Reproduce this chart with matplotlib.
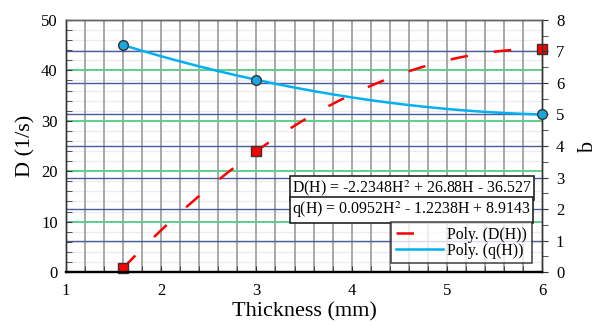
import numpy as np
import matplotlib
matplotlib.use("Agg")
import matplotlib.pyplot as plt
from matplotlib.lines import Line2D
from matplotlib.transforms import blended_transform_factory

plt.rcParams['font.family'] = ['Liberation Serif', 'DejaVu Serif']
plt.rcParams['mathtext.fontset'] = 'stix'

# measured points
thickness = [1.6, 3.0, 6.0]
D_vals = [0.8, 24.0, 44.3]
q_vals = [7.2, 6.1, 5.0]

eq_D = "D(H) = -2.2348H$^2$ + 26.88H - 36.527"
eq_q = "q(H) = 0.0952H$^2$ - 1.2238H + 8.9143"

# trendlines (2nd order poly fit, like the spreadsheet)
cD = np.polyfit(thickness, D_vals, 2)
cq = np.polyfit(thickness, q_vals, 2)
hh = np.linspace(1.6, 6.0, 200)

fig = plt.figure(figsize=(5.95, 3.27), dpi=100)
ax = fig.add_axes([0.111, 0.168, 0.8, 0.771])
ax2 = ax.twinx()

ax.set_xlim(1, 6)
ax.set_ylim(0, 50)
ax2.set_ylim(0, 8)

# grid lines
for x in np.arange(1.2, 6.0, 0.2):
    ax.axvline(x, color='#9a9a9a', lw=1.2, zorder=0.5)
for y in np.arange(2, 50, 2):
    if y % 10:
        ax.axhline(y, color='#ececec', lw=1.0, zorder=0.3)
for y in [10, 20, 30, 40]:
    ax.axhline(y, color='#5fcf8c', lw=1.4, zorder=0.6)
tr = blended_transform_factory(ax.transAxes, ax2.transData)
for q in range(1, 8):
    ax.add_line(Line2D([0, 1], [q, q], transform=tr, color='#4a5c9c', lw=1.0, zorder=0.7))

red_dash = (7, 10.5)
ax.plot(hh, np.polyval(cD, hh), color='#ff0000', lw=1.8, dashes=red_dash, zorder=2)
ax.plot(thickness, D_vals, 's', ms=6.5, color='#ff0000', mec='#333333', mew=1.0,
        clip_on=False, zorder=3)
ax2.plot(hh, np.polyval(cq, hh), color='#00b0f0', lw=1.8, zorder=2)
ax2.plot(thickness, q_vals, 'o', ms=7, color='#1aa7e0', mec='#333333', mew=1.0,
         clip_on=False, zorder=3)

ax.set_xticks([1, 2, 3, 4, 5, 6])
ax.set_xticks(np.arange(1, 6.01, 0.2), minor=True)
ax.set_yticks([0, 10, 20, 30, 40, 50])
ax.set_yticks(np.arange(0, 51, 2), minor=True)
ax2.set_yticks(range(0, 9))
ax2.set_yticks(np.arange(0, 8.01, 0.5), minor=True)

ax.tick_params(axis='x', which='both', direction='in', length=4, labelsize=12, pad=8, color='#333333')
ax.tick_params(axis='y', which='both', direction='in', length=4, labelsize=12, pad=6, color='#333333')
ax2.tick_params(axis='y', which='both', direction='out', length=4, labelsize=12, pad=6, color='#333333')

for a in (ax, ax2):
    for s in a.spines.values():
        s.set_color('#333333')
        s.set_linewidth(1.0)
    a.spines['bottom'].set_color('black')
    a.spines['bottom'].set_linewidth(1.6)
ax2.spines['top'].set_color('#666666')

ax.set_xlabel("Thickness (mm)", fontsize=16, labelpad=2)
ax.set_ylabel("D (1/s)", fontsize=16, labelpad=4)
ax2.set_ylabel("q", fontsize=16, labelpad=8, rotation=270, va='bottom')

box = dict(boxstyle='square,pad=0.15', fc='white', ec='#222222', lw=1.2)
ax2.text(0.475, 0.333, eq_D, transform=ax2.transAxes, fontsize=11.4, va='center', ha='left',
         bbox=box, zorder=10)
ax2.text(0.475, 0.246, eq_q, transform=ax2.transAxes, fontsize=11.4, va='center', ha='left',
         bbox=box, zorder=10)

handles = [Line2D([], [], color='#ff0000', lw=1.8, dashes=(7, 13)),
           Line2D([], [], color='#00b0f0', lw=1.8)]
leg = ax2.legend(handles, ["Poly. (D(H))", "Poly. (q(H))"], loc='lower right',
                 bbox_to_anchor=(0.979, 0.035), fontsize=11.3, frameon=True, fancybox=False,
                 borderpad=0.3, handlelength=3.0, handletextpad=0.3, labelspacing=0.0,
                 borderaxespad=0)
leg.get_frame().set_edgecolor('#222222')
leg.get_frame().set_linewidth(1.2)
leg.set_zorder(10)

fig.savefig("out.png", dpi=100)
